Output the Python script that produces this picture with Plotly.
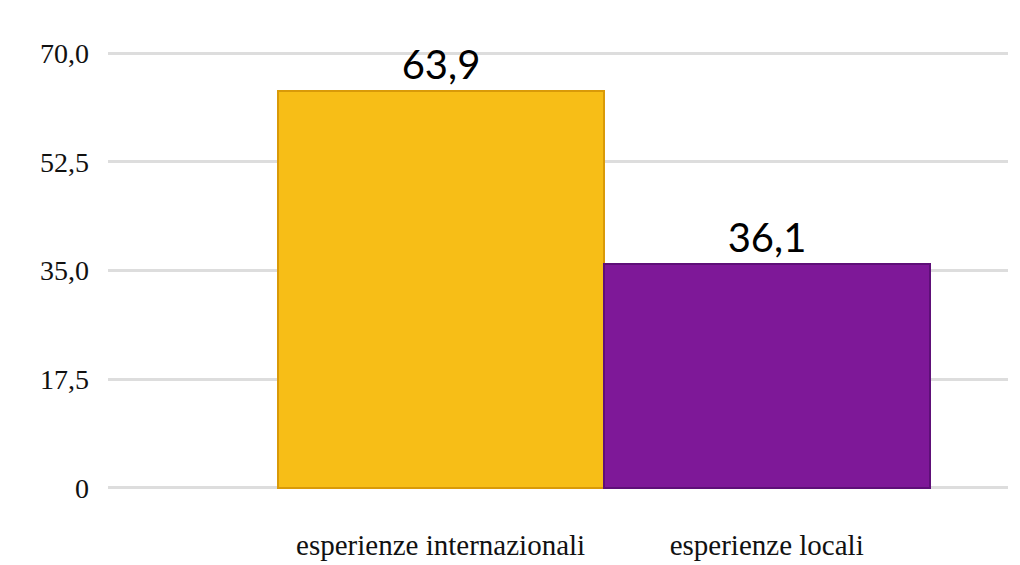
import plotly.graph_objects as go

categories = ["esperienze internazionali", "esperienze locali"]
values = [63.9, 36.1]
bar_colors = ["#F7BE17", "#7E1898"]
tick_vals = [0, 17.5, 35, 52.5, 70]
tick_text = ["0", "17,5", "35,0", "52,5", "70,0"]

fig = go.Figure()
fig.add_trace(go.Bar(
    x=categories,
    y=values,
    width=1.0,
    marker=dict(color=bar_colors, line=dict(color=["#D99A08", "#5E0F78"], width=2)),
    texttemplate="%{y:.1f}",
    textposition="outside",
    textfont=dict(family="Lato, Noto Sans, sans-serif", size=40, color="#000000"),
    cliponaxis=False,
))

fig.update_layout(
    width=1020,
    height=565,
    separators=",.",
    paper_bgcolor="white",
    plot_bgcolor="white",
    margin=dict(l=100, r=20, t=42, b=75),
    showlegend=False,
    bargap=0,
    font=dict(family="Liberation Serif, DejaVu Serif, serif", color="#111111"),
    xaxis=dict(
        range=[-1.02, 1.74],
        showgrid=False,
        zeroline=False,
        showline=False,
        ticks="",
        tickfont=dict(family="Liberation Serif, serif", size=29, color="#111111"),
        ticklabelstandoff=34,
    ),
    yaxis=dict(
        range=[-0.5, 70.5],
        tickvals=tick_vals,
        ticktext=tick_text,
        showgrid=True,
        gridcolor="#DDDDDD",
        gridwidth=3,
        zeroline=False,
        showline=False,
        ticks="",
        tickfont=dict(family="Liberation Serif, serif", size=28, color="#111111"),
        ticklabelstandoff=18,
    ),
)

fig.write_html("out.html")
